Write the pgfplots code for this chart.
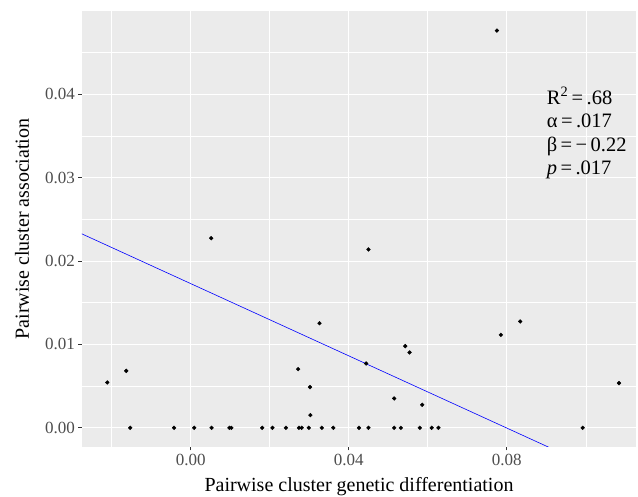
\documentclass[border=0pt]{standalone}
\usepackage{pgfplots}
\pgfplotsset{compat=1.18}
\usepackage{fontspec}
\setmainfont{Liberation Serif}
\definecolor{panel}{HTML}{EBEBEB}
\definecolor{ticktext}{HTML}{4D4D4D}
\definecolor{tickline}{HTML}{333333}

\pgfplotstableread{
x y
-0.0211 0.00544
-0.0163 0.00683
-0.0153 0
-0.0042 0
0.0009 0
0.0053 0
0.0098 0
0.0103 0
0.0181 0
0.0207 0
0.0241 0
0.0274 0
0.0281 0
0.0299 0
0.0272 0.00704
0.0302 0.00488
0.0303 0.00152
0.0326 0.01255
0.0332 0
0.0361 0
0.0426 0
0.0450 0
0.0515 0
0.0532 0
0.0580 0
0.0610 0
0.0627 0
0.0992 0
0.0444 0.00772
0.0515 0.00352
0.0543 0.00980
0.0554 0.00904
0.0586 0.00276
0.0785 0.01115
0.0834 0.01276
0.1084 0.00536
0.0450 0.02140
0.0052 0.02275
0.0775 0.04765
}\points

\begin{document}
\begin{tikzpicture}
\begin{axis}[
  scale only axis,
  width=554pt, height=436pt,
  xmin=-0.0275, xmax=0.1127,
  ymin=-0.0023, ymax=0.0500,
  axis background/.style={fill=panel},
  axis line style={draw=none},
  xtick={0,0.04,0.08}, xticklabels={0.00,0.04,0.08},
  ytick={0,0.01,0.02,0.03,0.04}, yticklabels={0.00,0.01,0.02,0.03,0.04},
  minor xtick={-0.02,0.02,0.06,0.10},
  minor ytick={0.005,0.015,0.025,0.035,0.045},
  xtick pos=bottom, ytick pos=left,
  grid=both,
  major grid style={white, line width=1.1pt},
  minor grid style={white, line width=0.55pt},
  tick align=outside,
  major tick length=3.5pt, minor tick length=0pt,
  tick style={tickline, line width=0.8pt},
  ticklabel style={font=\fontsize{17}{18}\selectfont, text=ticktext},
  xlabel={Pairwise cluster genetic differentiation},
  ylabel={Pairwise cluster association},
  xlabel style={at={(axis description cs:0.5,-0.0917)}, anchor=center,
                font=\fontsize{20}{22}\selectfont},
  ylabel style={at={(axis description cs:-0.1083,0.5)}, anchor=center,
                font=\fontsize{20}{22}\selectfont},
]
\addplot[only marks, mark=*, mark size=1.9pt, black] table {\points};
\addplot[blue, line width=0.6pt] coordinates {(-0.0300,0.02380) (0.1000,-0.00436)};
\node[anchor=north west, align=left, inner sep=0pt,
      font=\fontsize{20.5}{23.5}\selectfont]
  at (axis cs:0.0901,0.0409)
  {R\textsuperscript{2}\,=\,.68\\ α\,=\,.017\\ β\,=\,−\,0.22\\ \textit{p}\,=\,.017};
\coordinate (SW) at (rel axis cs:0,0);
\coordinate (NE) at (rel axis cs:1,1);
\end{axis}
\pgfresetboundingbox
\path[use as bounding box] ([shift={(-82pt,-50pt)}]SW) rectangle ([shift={(2pt,11pt)}]NE);
\end{tikzpicture}
\end{document}
